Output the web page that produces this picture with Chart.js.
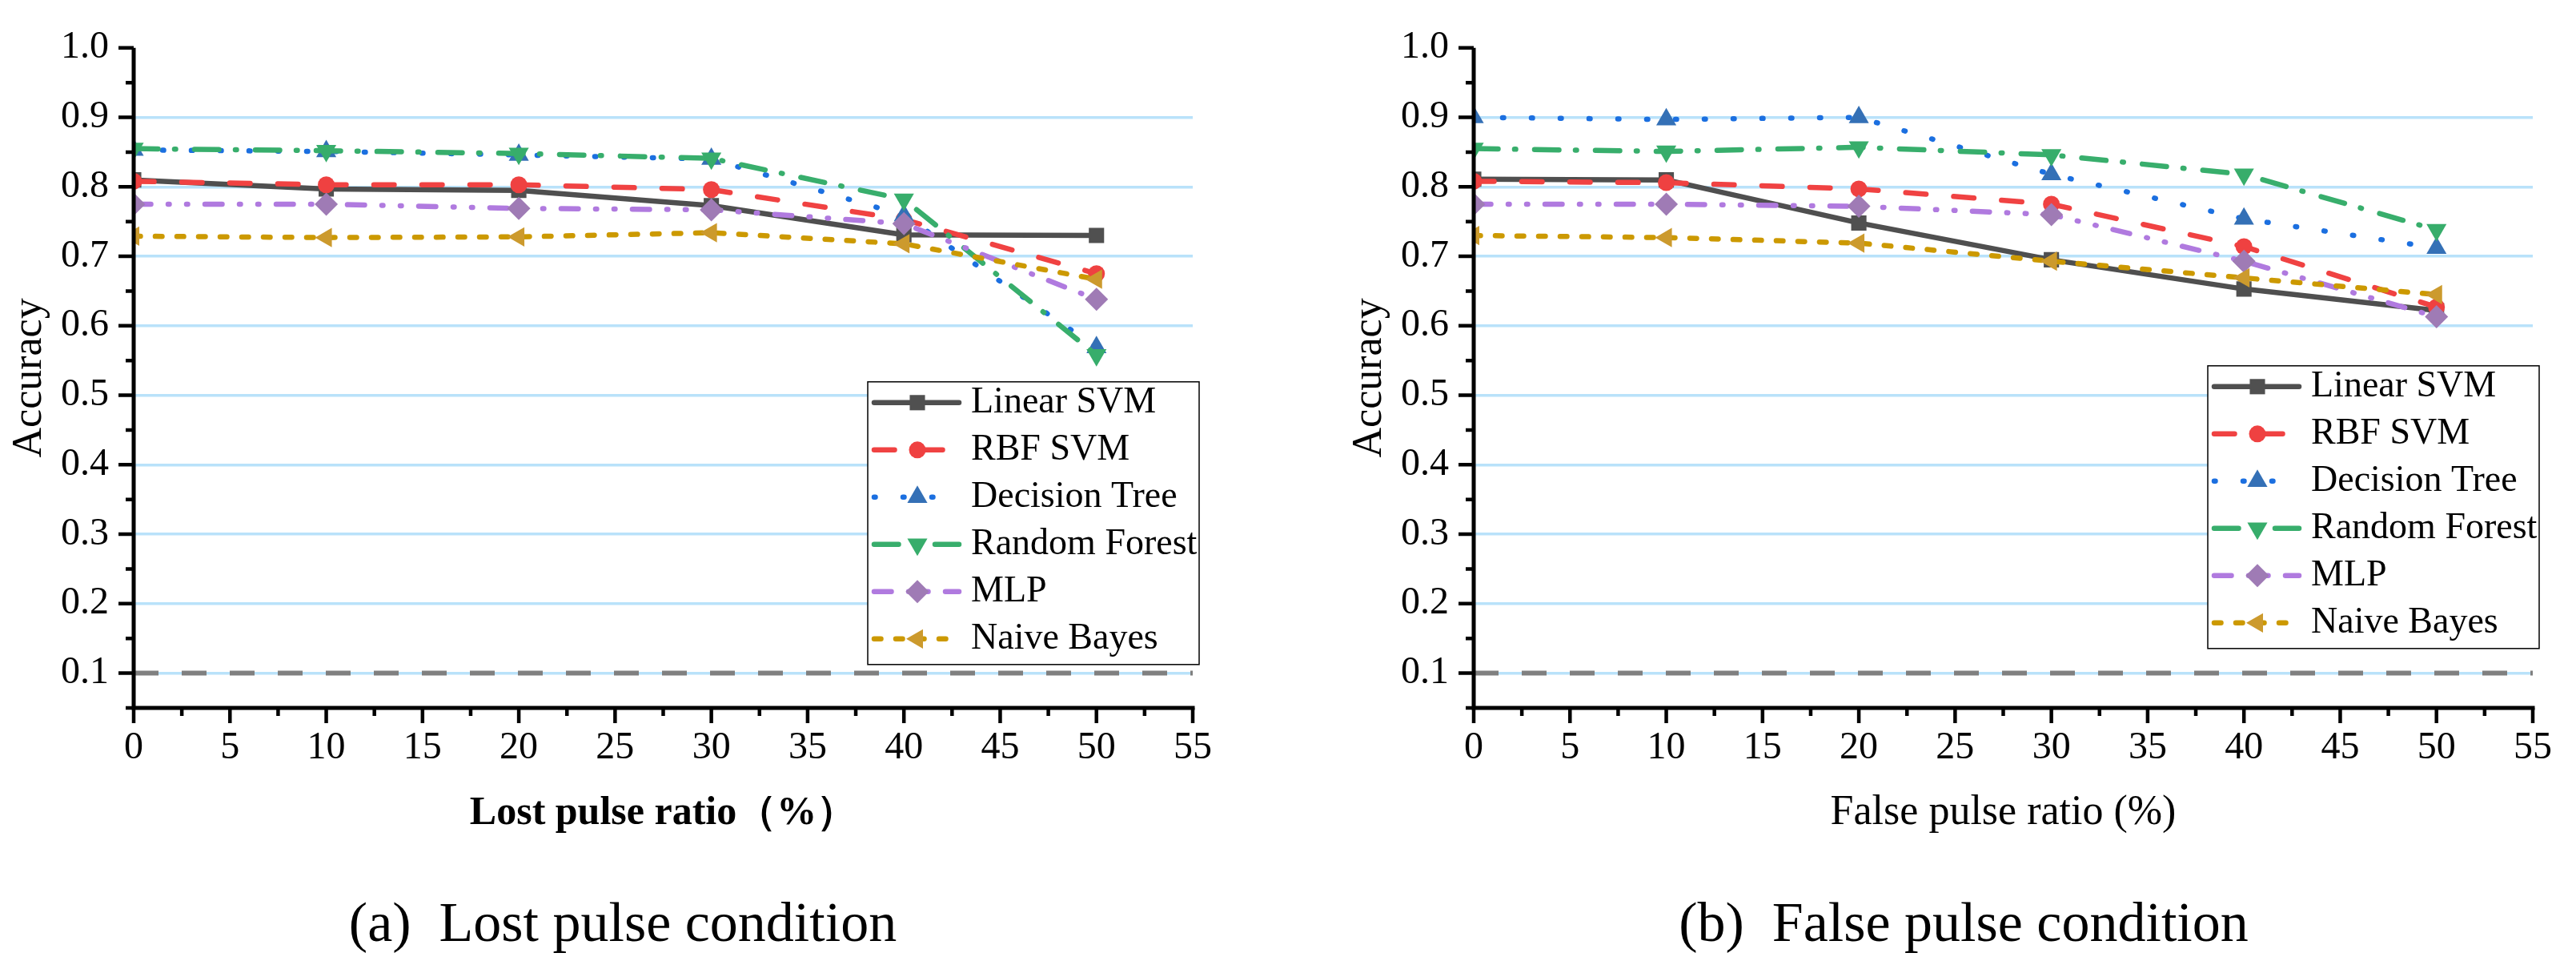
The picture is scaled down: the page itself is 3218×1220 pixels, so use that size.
<!DOCTYPE html>
<html>
<head>
<meta charset="utf-8">
<script src="https://cdn.jsdelivr.net/npm/chart.js@4.4.1/dist/chart.umd.min.js"></script>
<style>
html,body{margin:0;padding:0;background:#fff;}
#wrap{position:relative;width:3218px;height:1220px;overflow:hidden;background:#fff;}
canvas{position:absolute;top:0;}
.cap{position:absolute;font-family:"Liberation Serif","Times New Roman",serif;font-size:70px;line-height:80px;white-space:pre;text-align:center;width:900px;color:#000;}
</style>
</head>
<body>
<div id="wrap">
  <canvas id="cA" width="1544" height="1060" style="left:0px"></canvas>
  <canvas id="cB" width="1544" height="1060" style="left:1674px"></canvas>
  <div class="cap" style="left:328px;top:1112px">(a)  Lost pulse condition</div>
  <div class="cap" style="left:2003px;top:1112px">(b)  False pulse condition</div>
</div>
<script>
// ---------- data ----------
const xValues = [0, 10, 20, 30, 40, 50];
const seriesNames = ['Linear SVM', 'RBF SVM', 'Decision Tree', 'Random Forest', 'MLP', 'Naive Bayes'];

// (a) Lost pulse condition
const linearLost = [0.810, 0.797, 0.795, 0.773, 0.731, 0.730];
const rbfLost    = [0.808, 0.803, 0.803, 0.796, 0.753, 0.675];
const dtLost     = [0.853, 0.851, 0.846, 0.840, 0.759, 0.569];
const rfLost     = [0.855, 0.852, 0.848, 0.841, 0.782, 0.558];
const mlpLost    = [0.775, 0.775, 0.769, 0.767, 0.747, 0.638];
const nbLost     = [0.729, 0.727, 0.728, 0.734, 0.718, 0.667];

// (b) False pulse condition
const linearFalse = [0.811, 0.810, 0.748, 0.695, 0.653, 0.622];
const rbfFalse    = [0.808, 0.806, 0.797, 0.775, 0.714, 0.627];
const dtFalse     = [0.900, 0.897, 0.900, 0.818, 0.754, 0.712];
const rfFalse     = [0.855, 0.851, 0.857, 0.846, 0.818, 0.738];
const mlpFalse    = [0.775, 0.775, 0.772, 0.760, 0.693, 0.613];
const nbFalse     = [0.730, 0.727, 0.719, 0.693, 0.669, 0.645];

const xTickValues = [0, 5, 10, 15, 20, 25, 30, 35, 40, 45, 50, 55];
const yTickValues = [0.1, 0.2, 0.3, 0.4, 0.5, 0.6, 0.7, 0.8, 0.9, 1.0];
const yAxisMin = 0.05;
const baselineValue = 0.1;

const xTitleLost = 'Lost pulse ratio（%）';
const xTitleFalse = 'False pulse ratio (%)';
const yTitle = 'Accuracy';

// ---------- styles ----------
const FONT = '"Liberation Serif", "Times New Roman", Times, serif';
Chart.defaults.font.family = FONT;
Chart.defaults.color = '#000';

const styles = [
  {line:'#4F4F4F', marker:'#505050', dash:[],                          cap:'round', ps:'rect',     rot:0,   r:13.5, w:6.5},
  {line:'#F04242', marker:'#EF4141', dash:[25.5,34.5],                 cap:'round', ps:'circle',   rot:0,   r:10.5, w:6.5},
  {line:'#1B6FE0', marker:'#3470B6', dash:[1.5,34.5],                  cap:'round', ps:'triangle', rot:0,   r:14.5, w:6.5},
  {line:'#38AE6C', marker:'#37AD6B', dash:[30.5,20.5,1.5,23.5],        cap:'round', ps:'triangle', rot:180, r:14.5, w:6.5},
  {line:'#B07ADF', marker:'#9F7BB5', dash:[21.5,21.5,1.5,21.5,1.5,21.5], cap:'round', ps:'rectRot', rot:0,   r:14.5, w:6.5},
  {line:'#CC9900', marker:'#CC9A2D', dash:[8.5,18.5],                  cap:'round', ps:'triangle', rot:270, r:14,   w:6.5}
];

function buildDatasets(seriesArrays) {
  const ds = seriesArrays.map((vals, i) => {
    const s = styles[i];
    return {
      label: seriesNames[i],
      data: xValues.map((x, j) => ({x: x, y: vals[j]})),
      borderColor: s.line,
      backgroundColor: s.marker,
      borderWidth: s.w,
      borderDash: s.dash,
      borderCapStyle: s.cap,
      borderJoinStyle: 'round',
      pointStyle: s.ps,
      pointRotation: s.rot,
      pointRadius: s.r,
      pointHoverRadius: s.r,
      pointBackgroundColor: s.marker,
      pointBorderColor: s.marker,
      pointBorderWidth: 0,
      tension: 0,
      fill: false,
      order: 10 - i
    };
  });
  ds.push({
    label: 'baseline',
    isBaseline: true,
    data: [{x: xTickValues[0], y: baselineValue}, {x: xTickValues[xTickValues.length - 1], y: baselineValue}],
    borderColor: '#808080',
    borderWidth: 6,
    borderDash: [31, 29],
    borderCapStyle: 'butt',
    pointRadius: 0,
    pointHoverRadius: 0,
    fill: false,
    order: 100
  });
  return ds;
}

// ---------- plugins ----------
const axesPlugin = {
  id: 'axesFrame',
  afterDatasetsDraw(chart) {
    const {ctx, chartArea: ca, scales} = chart;
    const x = scales.x, y = scales.y;
    ctx.save();
    ctx.strokeStyle = '#000';
    ctx.lineCap = 'butt';
    ctx.setLineDash([]);
    ctx.lineWidth = 5;
    ctx.beginPath();
    ctx.moveTo(ca.left, ca.top);
    ctx.lineTo(ca.left, ca.bottom + 2.5);
    ctx.moveTo(ca.left - 2.5, ca.bottom);
    ctx.lineTo(ca.right + 2.5, ca.bottom);
    ctx.stroke();
    ctx.lineWidth = 4.5;
    ctx.beginPath();
    const xt = x.ticks.map(t => t.value);
    xt.forEach(v => { const p = x.getPixelForValue(v); ctx.moveTo(p, ca.bottom); ctx.lineTo(p, ca.bottom + 19); });
    for (let i = 0; i < xt.length - 1; i++) {
      const p = x.getPixelForValue((xt[i] + xt[i + 1]) / 2);
      ctx.moveTo(p, ca.bottom); ctx.lineTo(p, ca.bottom + 10);
    }
    const yt = y.ticks.map(t => t.value);
    yt.forEach(v => { const p = y.getPixelForValue(v); ctx.moveTo(ca.left, p); ctx.lineTo(ca.left - 19, p); });
    const yMinor = [y.min];
    for (let i = 0; i < yt.length - 1; i++) yMinor.push((yt[i] + yt[i + 1]) / 2);
    yMinor.forEach(v => { const p = y.getPixelForValue(v); ctx.moveTo(ca.left, p); ctx.lineTo(ca.left - 10, p); });
    ctx.stroke();
    ctx.restore();
  }
};

function drawMarker(ctx, style, rotation, radius, cx, cy) {
  if (Chart.helpers && Chart.helpers.drawPoint) {
    Chart.helpers.drawPoint(ctx, {pointStyle: style, rotation: rotation, radius: radius, borderWidth: 0}, cx, cy);
    return;
  }
  ctx.beginPath();
  ctx.arc(cx, cy, radius, 0, Math.PI * 2);
  ctx.fill();
}

const legendPlugin = {
  id: 'boxLegend',
  afterDraw(chart, args, opts) {
    const {ctx, chartArea: ca} = chart;
    const w = 414, h = 353;
    const left = ca.right - 406;
    const top = ca.top + (opts.topOffset || 417);
    ctx.save();
    ctx.fillStyle = '#fff';
    ctx.fillRect(left, top, w, h);
    ctx.strokeStyle = '#000';
    ctx.lineWidth = 1.5;
    ctx.setLineDash([]);
    ctx.strokeRect(left, top, w, h);
    let row = 0;
    chart.data.datasets.forEach(ds => {
      if (ds.isBaseline) return;
      const cy = top + 26 + row * 59;
      row++;
      ctx.save();
      ctx.setLineDash(ds.borderDash || []);
      ctx.lineDashOffset = 0;
      ctx.lineCap = ds.borderCapStyle || 'butt';
      ctx.strokeStyle = ds.borderColor;
      ctx.lineWidth = ds.borderWidth;
      ctx.beginPath();
      ctx.moveTo(left + 8, cy);
      ctx.lineTo(left + 114, cy);
      ctx.stroke();
      ctx.restore();
      ctx.fillStyle = ds.pointBackgroundColor;
      drawMarker(ctx, ds.pointStyle, ds.pointRotation, ds.pointRadius, left + 62, cy);
      ctx.fillStyle = '#000';
      ctx.font = '46px ' + FONT;
      ctx.textBaseline = 'middle';
      ctx.textAlign = 'left';
      ctx.fillText(ds.label, left + 129, cy);
    });
    ctx.restore();
  }
};

function makeChart(canvasId, seriesArrays, xTitle, xTitleBold, legendTop) {
  const ctx = document.getElementById(canvasId).getContext('2d');
  return new Chart(ctx, {
    type: 'line',
    data: {datasets: buildDatasets(seriesArrays)},
    options: {
      responsive: false,
      animation: false,
      devicePixelRatio: 1,
      layout: {padding: {left: 0, top: 52, right: 54, bottom: 0}},
      events: [],
      plugins: {
        legend: {display: false},
        tooltip: {enabled: false},
        title: {display: false},
        boxLegend: {topOffset: legendTop}
      },
      scales: {
        x: {
          type: 'linear',
          min: xTickValues[0],
          max: xTickValues[xTickValues.length - 1],
          afterBuildTicks: s => { s.ticks = xTickValues.map(v => ({value: v})); },
          afterFit: s => { s.height = 176; },
          grid: {display: false, drawTicks: false},
          border: {display: false},
          ticks: {
            autoSkip: false, maxRotation: 0, minRotation: 0,
            padding: 22, color: '#000',
            font: {family: FONT, size: 48},
            callback: v => String(v)
          },
          title: {
            display: true, text: xTitle, color: '#000',
            font: {family: FONT, size: xTitleBold ? 50 : 52, weight: xTitleBold ? 'bold' : 'normal', lineHeight: 1.2},
            padding: {top: 0, bottom: xTitleBold ? 14 : 13}
          }
        },
        y: {
          type: 'linear',
          min: yAxisMin,
          max: yTickValues[yTickValues.length - 1],
          afterBuildTicks: s => { s.ticks = yTickValues.map(v => ({value: v})); },
          afterFit: s => { s.width = 167; },
          grid: {
            display: true, drawTicks: false, lineWidth: 3.5,
            color: c => (c.tick && c.tick.value < 0.99) ? '#B9E2FA' : 'rgba(0,0,0,0)'
          },
          border: {display: false},
          ticks: {
            autoSkip: false, padding: 31, color: '#000',
            font: {family: FONT, size: 48},
            callback: v => Number(v).toFixed(1)
          },
          title: {
            display: true, text: yTitle, color: '#000',
            font: {family: FONT, size: 52, lineHeight: 1.2},
            padding: {top: 6, bottom: 0}
          }
        }
      }
    },
    plugins: [axesPlugin, legendPlugin]
  });
}

makeChart('cA', [linearLost, rbfLost, dtLost, rfLost, mlpLost, nbLost], xTitleLost, true, 417);
makeChart('cB', [linearFalse, rbfFalse, dtFalse, rfFalse, mlpFalse, nbFalse], xTitleFalse, false, 397);
</script>
</body>
</html>
